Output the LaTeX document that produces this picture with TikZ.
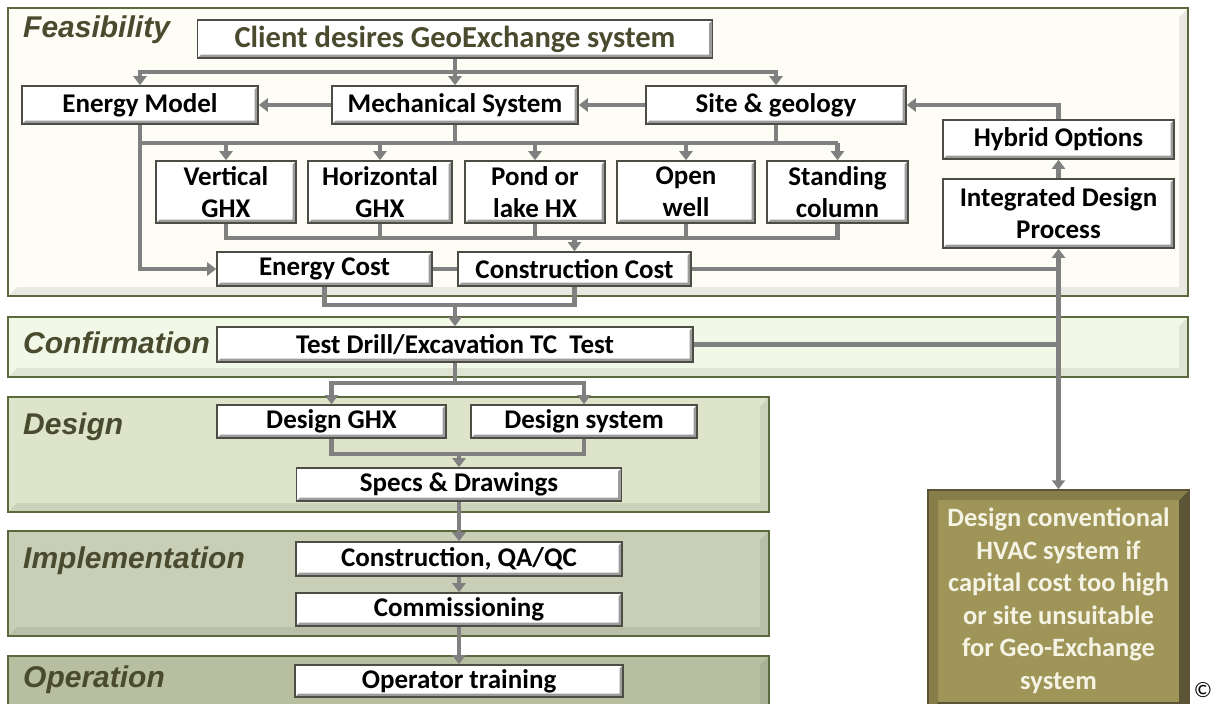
\documentclass[tikz,border=0pt]{standalone}
\usepackage{fontspec}
\setmainfont{Carlito}
\newfontfamily\phasefont{Liberation Sans}
\usepackage{tikz}
\usetikzlibrary{arrows.meta}
\definecolor{bandline}{HTML}{5B6A3C}
\definecolor{feasfill}{HTML}{FDFDF6}
\definecolor{conffill}{HTML}{F2F8E7}
\definecolor{desfill}{HTML}{DDE4C9}
\definecolor{implfill}{HTML}{C9CEB7}
\definecolor{operfill}{HTML}{B8BFA1}
\definecolor{phasetext}{HTML}{4A4A2E}
\definecolor{boxline}{HTML}{4D4D45}
\definecolor{boxshade}{HTML}{9C9C9C}
\definecolor{linkgray}{HTML}{808080}
\definecolor{khaki}{HTML}{A09558}
\definecolor{khakiside}{HTML}{877D49}
\definecolor{khakidark}{HTML}{5B5535}
\definecolor{khakitext}{HTML}{F4F3E4}

\begin{document}
\begin{tikzpicture}[x=1pt,y=-1pt,
    every node/.style={font=\fontsize{27}{32}\selectfont\bfseries},
    band/.style={draw=bandline,line width=1.5pt,fill=#1!92!black,
      path picture={\fill[#1] (path picture bounding box.north west) -- (path picture bounding box.north east)
        -- ([shift={(-9pt,-9pt)}]path picture bounding box.north east) -- ([shift={(-9pt,9pt)}]path picture bounding box.south east)
        -- ([shift={(9pt,9pt)}]path picture bounding box.south west) -- (path picture bounding box.south west) -- cycle;}},
    phase/.style={anchor=west,inner sep=0pt,text=phasetext,font=\phasefont\fontsize{30}{36}\selectfont\bfseries\itshape},
    box/.style={draw=boxline,line width=1.6pt,fill=white,align=center,inner sep=0pt,
      path picture={\fill[boxshade] (path picture bounding box.south west) -- (path picture bounding box.south east)
        -- (path picture bounding box.north east) -- ([shift={(-3.5pt,-3.5pt)}]path picture bounding box.north east)
        -- ([shift={(-3.5pt,3.5pt)}]path picture bounding box.south east) -- ([shift={(3.5pt,3.5pt)}]path picture bounding box.south west) -- cycle;}},
    khakibox/.style={draw=khakidark,line width=1.5pt,fill=khaki,align=center,inner sep=0pt,text=khakitext,
      path picture={\fill[khakidark] (path picture bounding box.south east) -- (path picture bounding box.north east)
        -- ([shift={(-10pt,-10pt)}]path picture bounding box.north east) -- ([shift={(-10pt,10pt)}]path picture bounding box.south east)
        -- ([shift={(10pt,10pt)}]path picture bounding box.south west) -- (path picture bounding box.south west) -- cycle;
        \fill[khakiside] (path picture bounding box.north west) -- (path picture bounding box.north east)
        -- ([shift={(-10pt,-10pt)}]path picture bounding box.north east) -- ([shift={(10pt,-10pt)}]path picture bounding box.north west)
        -- ([shift={(10pt,10pt)}]path picture bounding box.south west) -- (path picture bounding box.south west) -- cycle;}},
    link/.style={draw=linkgray,line width=4.2pt},
    arr/.style={link,-{Triangle[width=13pt,length=9pt]}},
    arrs/.style={link,{Triangle[width=13pt,length=9pt]}-{Triangle[width=13pt,length=9pt]}}]
  \useasboundingbox (0,0) rectangle (1218,704);

  % phase bands
  \path[band=feasfill] (8,8) rectangle (1188,296);
  \path[band=conffill] (8,317) rectangle (1188,377);
  \path[band=desfill] (8,397) rectangle (769,512);
  \path[band=implfill] (8,531) rectangle (769,636);
  \path[band=operfill] (8,656) rectangle (769,724);
  \node[phase] (feas) at (23,30) {Feasibility};
  \node[phase] (conf) at (23,343) {Confirmation};
  \node[phase] (des) at (23,427) {Design};
  \node[phase] (impl) at (23,561) {Implementation};
  \node[phase] (oper) at (23,680) {Operation};

  % feasibility
  \node[box,minimum width=515pt,minimum height=38pt,text=phasetext,font=\fontsize{30.5}{36}\selectfont\bfseries] (client) at (455,39) {Client desires GeoExchange system};
  \node[box,minimum width=236pt,minimum height=38pt] (emodel) at (140,105) {Energy Model};
  \node[box,minimum width=246pt,minimum height=38pt] (mech) at (455,105) {Mechanical System};
  \node[box,minimum width=260pt,minimum height=38pt] (site) at (776,105) {Site \& geology};
  \node[box,minimum width=231pt,minimum height=39pt] (hybrid) at (1058.5,139.5) {Hybrid Options};
  \node[box,minimum width=231pt,minimum height=69pt] (idp) at (1058.5,213.5) {Integrated Design\\Process};
  \node[box,minimum width=140pt,minimum height=62pt] (vghx) at (226,192) {Vertical\\GHX};
  \node[box,minimum width=144pt,minimum height=62pt] (hghx) at (380,192) {Horizontal\\GHX};
  \node[box,minimum width=140pt,minimum height=62pt] (pond) at (535,192) {Pond or\\lake HX};
  \node[box,minimum width=138pt,minimum height=62pt] (openwell) at (686,192) {Open\\well};
  \node[box,minimum width=141pt,minimum height=62pt] (standing) at (837.5,192) {Standing\\column};
  \node[box,minimum width=215pt,minimum height=34pt] (ecost) at (324.5,269) {Energy Cost};
  \node[box,minimum width=233pt,minimum height=34pt] (ccost) at (574.5,269) {Construction Cost};

  % confirmation, design, implementation, operation
  \node[box,minimum width=476pt,minimum height=35pt] (testdrill) at (455,344.5) {Test Drill/Excavation TC~~Test};
  \node[box,minimum width=229pt,minimum height=33pt] (dghx) at (331.5,421.5) {Design GHX};
  \node[box,minimum width=226pt,minimum height=33pt] (dsys) at (584,421.5) {Design system};
  \node[box,minimum width=325pt,minimum height=33pt] (specs) at (459,484.5) {Specs \& Drawings};
  \node[box,minimum width=326pt,minimum height=34pt] (constr) at (459,559) {Construction, QA/QC};
  \node[box,minimum width=326pt,minimum height=33pt] (comm) at (459,609.5) {Commissioning};
  \node[box,minimum width=328pt,minimum height=32pt] (operator) at (459,681) {Operator training};
  \node[khakibox,minimum width=261pt,minimum height=222pt,font=\fontsize{26.5}{32.5}\selectfont\bfseries] (conv) at (1058.5,601)
    {Design conventional\\HVAC system if\\capital cost too high\\or site unsuitable\\for Geo-Exchange\\system};
  \node[anchor=south,inner sep=1pt,font=\fontsize{22}{26}\selectfont] (copy) at (1203,699) {©};

  % connectors
  \coordinate (topbus) at (0,72);
  \coordinate (ghxbus) at (0,143);
  \coordinate (costbus) at (0,238);
  \coordinate (drillbus) at (0,305);
  \coordinate (dbus) at (0,383);
  \coordinate (sbus) at (0,454);
  \draw[link] (client) -- (client.south |- topbus);
  \draw[arr] (client.south |- topbus) -| (emodel.north);
  \draw[arr] (client.south |- topbus) -- (mech.north);
  \draw[arr] (client.south |- topbus) -| (site.north);
  \draw[arr] (mech) -- (emodel);
  \draw[arr] (site) -- (mech);
  \draw[arr] (hybrid.north) |- (site.east);
  \draw[arr] (idp) -- (hybrid);
  \draw[arr] (emodel.south) |- (ecost.west);
  \draw[link] (emodel.south |- ghxbus) -- (standing.north |- ghxbus);
  \draw[link] (mech.south) -- (mech.south |- ghxbus);
  \draw[link] (site.south) -- (site.south |- ghxbus);
  \foreach \n in {vghx,hghx,pond,openwell,standing}
    \draw[arr] (\n.north |- ghxbus) -- (\n.north);
  \draw[link] (vghx.south) |- (standing.south |- costbus) -- (standing.south);
  \foreach \n in {hghx,pond,openwell}
    \draw[link] (\n.south) -- (\n.south |- costbus);
  \draw[arr] (ccost.north |- costbus) -- (ccost.north);
  \draw[link] (ecost) -- (ccost);
  \draw[link] (ccost.east) -- (ccost.east -| idp.south);
  \draw[link] (testdrill.east) -- (testdrill.east -| idp.south);
  \draw[arrs] (idp.south) -- (conv.north);
  \draw[link] (ecost.south) |- (ccost.south |- drillbus) -- (ccost.south);
  \draw[arr] (testdrill.north |- drillbus) -- (testdrill.north);
  \draw[link] (testdrill.south) -- (testdrill.south |- dbus);
  \draw[arr] (testdrill.south |- dbus) -| (dghx.north);
  \draw[arr] (testdrill.south |- dbus) -| (dsys.north);
  \draw[link] (dghx.south) |- (dsys.south |- sbus) -- (dsys.south);
  \draw[arr] (specs.north |- sbus) -- (specs.north);
  \draw[arr] (specs) -- (constr);
  \draw[arr] (constr) -- (comm);
  \draw[arr] (comm) -- (operator);
\end{tikzpicture}
\end{document}
